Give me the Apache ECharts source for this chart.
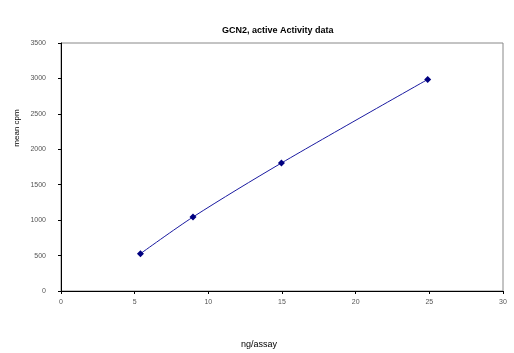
<!DOCTYPE html>
<html lang="en">
<head>
    <meta charset="UTF-8">
    <title>GCN2 activity</title>
    <script src="https://cdn.jsdelivr.net/npm/echarts@6/dist/echarts.min.js"></script>
</head>
<body style="margin:0;background:#fff">
    <div id="main" style="width:514px;height:353px"></div>
    <script type="text/javascript">
        // data
        var ngPerAssay = [5.39, 8.96, 14.96, 24.89];
        var meanCpm = [526, 1044, 1806, 2986];
        var xTicks = [0, 30, 5];      // min, max, step
        var yTicks = [0, 3500, 500];

        var points = [];
        for (var i = 0; i < ngPerAssay.length; i++) {
            points.push([ngPerAssay[i], meanCpm[i]]);
        }

        var myChart = echarts.init(document.getElementById('main'));
        var labelFont = {color: '#555', fontSize: 7, fontFamily: 'Liberation Sans'};

        myChart.setOption({
            animation: false,
            title: {
                text: 'GCN2, active Activity data',
                left: 217, top: 21,
                textStyle: {fontSize: 9, fontWeight: 'bold', color: '#000', fontFamily: 'Liberation Sans'}
            },
            // axis names placed where the original has them (not centred on the axis)
            graphic: [{
                type: 'text', x: 17, y: 128, rotation: Math.PI / 2,
                style: {text: 'mean cpm', fontSize: 8, fill: '#000', fontFamily: 'Liberation Sans',
                        align: 'center', verticalAlign: 'middle'}
            }, {
                type: 'text', x: 259, y: 345,
                style: {text: 'ng/assay', fontSize: 9, fill: '#000', fontFamily: 'Liberation Sans',
                        align: 'center', verticalAlign: 'middle'}
            }],
            grid: {
                left: 61, right: 11, top: 43, bottom: 62,
                show: true, borderColor: '#888', borderWidth: 1
            },
            xAxis: {
                type: 'value',
                min: xTicks[0], max: xTicks[1], interval: xTicks[2],
                axisLine: {lineStyle: {color: '#000', width: 1}},
                axisTick: {show: true, length: 3, lineStyle: {color: '#000'}},
                axisLabel: Object.assign({margin: 8}, labelFont),
                splitLine: {show: false}
            },
            yAxis: {
                type: 'value',
                min: yTicks[0], max: yTicks[1], interval: yTicks[2],
                axisLine: {show: true, lineStyle: {color: '#000', width: 1}},
                axisTick: {show: true, length: 3, lineStyle: {color: '#000'}},
                axisLabel: Object.assign({margin: 15, formatter: function (v) { return String(v); }}, labelFont),
                splitLine: {show: false}
            },
            series: [{
                type: 'line',
                data: points,
                smooth: 0.3,
                symbol: 'diamond',
                symbolSize: 7,
                itemStyle: {color: '#000080'},
                lineStyle: {color: '#1a1aa0', width: 1}
            }]
        });
    </script>
</body>
</html>
